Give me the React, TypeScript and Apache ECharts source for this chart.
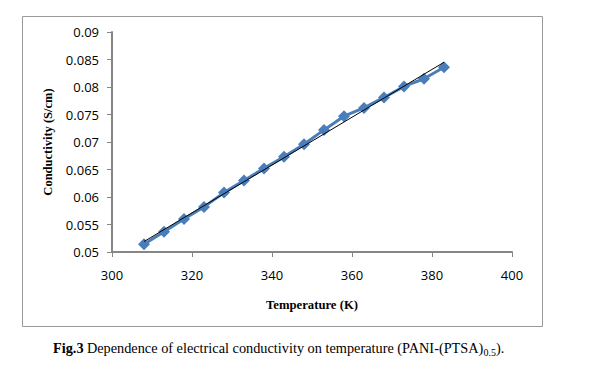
import React, { useEffect, useRef } from "react";
import * as echarts from "echarts";

const temperatures = [308, 313, 318, 323, 328, 333, 338, 343, 348, 353, 358, 363, 368, 373, 378, 383];
const conductivity = [0.0514, 0.0537, 0.056, 0.0582, 0.0608, 0.063, 0.0652, 0.0673, 0.0696, 0.0722, 0.0747, 0.0762, 0.0781, 0.0801, 0.0815, 0.0836];
const trendX = [308, 383];
const trendY = [0.0519, 0.0845];
const xTicks = { min: 300, max: 400, interval: 20 };
const yTicks = { min: 0.05, max: 0.09, interval: 0.005 };

export default function App() {
  const ref = useRef<HTMLDivElement>(null);
  useEffect(() => {
    const chart = echarts.init(ref.current!, null, { renderer: "svg" });
    const axisGray = "#868686";
    chart.setOption({
      animation: false,
      backgroundColor: "#ffffff",
      grid: { left: 112, top: 32, right: 81, bottom: 128, containLabel: false },
      xAxis: {
        type: "value",
        min: xTicks.min,
        max: xTicks.max,
        interval: xTicks.interval,
        name: "Temperature (K)",
        nameLocation: "middle",
        nameGap: 46,
        nameTextStyle: { fontFamily: "Liberation Serif", fontWeight: "bold", fontSize: 12.7, color: "#000" },
        axisLine: { lineStyle: { color: axisGray, width: 2 } },
        axisTick: { show: true, length: 5, lineStyle: { color: axisGray, width: 1 } },
        axisLabel: { fontFamily: "Open Sans", fontSize: 13, color: "#000", margin: 16 },
        splitLine: { show: false },
      },
      yAxis: {
        type: "value",
        min: yTicks.min,
        max: yTicks.max,
        interval: yTicks.interval,
        name: "Conductivity (S/cm)",
        nameLocation: "middle",
        nameGap: 58,
        nameRotate: 90,
        nameTextStyle: { fontFamily: "Liberation Serif", fontWeight: "bold", fontSize: 12.5, color: "#000" },
        axisLine: { show: true, lineStyle: { color: axisGray, width: 2 } },
        axisTick: { show: true, length: 5, lineStyle: { color: axisGray, width: 1 } },
        axisLabel: {
          fontFamily: "Open Sans",
          fontSize: 13,
          color: "#000",
          margin: 13,
          formatter: (v: number) => parseFloat(v.toFixed(4)).toString(),
        },
        splitLine: { show: false },
      },
      series: [
        {
          type: "line",
          data: temperatures.map((t, i) => [t, conductivity[i]]),
          symbol: "diamond",
          symbolSize: 12,
          showSymbol: true,
          lineStyle: { color: "#4A7EBB", width: 3 },
          itemStyle: { color: "#4A7EBB" },
          z: 2,
        },
        {
          type: "line",
          data: trendX.map((t, i) => [t, trendY[i]]),
          symbol: "none",
          lineStyle: { color: "#000", width: 1 },
          z: 3,
        },
      ],
      graphic: [
        {
          type: "rect",
          shape: { x: 22.5, y: 16.5, width: 520, height: 310 },
          style: { fill: "none", stroke: "#9a9a9a", lineWidth: 1 },
          silent: true,
        },
        {
          type: "text",
          left: 53,
          top: 341,
          style: {
            text: "{b|Fig.3} {n|Dependence of electrical conductivity on temperature (PANI-(PTSA)}{s|0.5}{n|).}",
            rich: {
              b: { fontFamily: "Liberation Serif", fontWeight: "bold", fontSize: 14.3, fill: "#000" },
              n: { fontFamily: "Liberation Serif", fontSize: 14.3, fill: "#000" },
              s: { fontFamily: "Liberation Serif", fontSize: 10, fill: "#000", padding: [8, 0, 0, 0] },
            },
          },
        },
      ],
    });
    return () => chart.dispose();
  }, []);
  return <div ref={ref} style={{ position: "absolute", left: 0, top: 0, width: 593, height: 380 }} />;
}
